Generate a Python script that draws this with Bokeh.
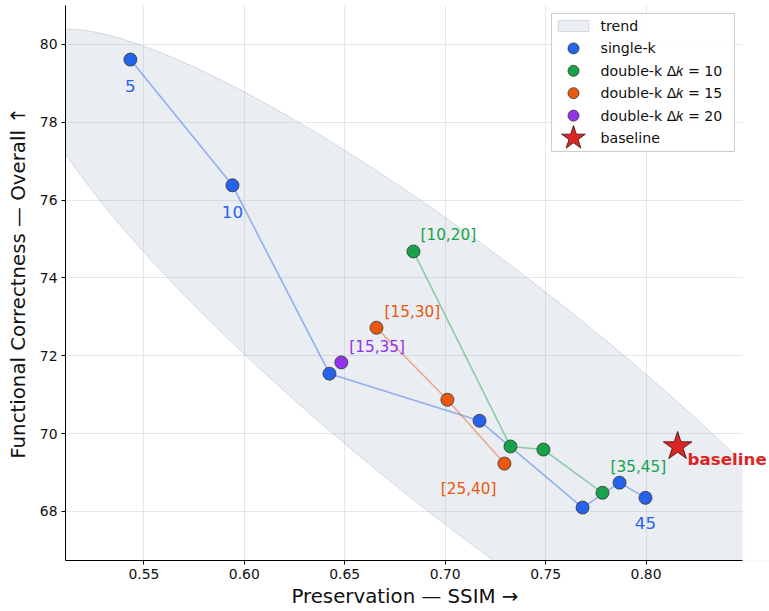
import numpy as np
from bokeh.plotting import figure
from bokeh.models import (Range1d, FixedTicker, Label, NumeralTickFormatter,
                          BoxAnnotation)
from bokeh.core.properties import value
from bokeh.embed import file_html
from bokeh.resources import INLINE

# ---------------- data ----------------
single_k = [5, 10, 20, 25, 35, 40, 45]
single_x = [0.5433, 0.5941, 0.6424, 0.7171, 0.7684, 0.7868, 0.7997]
single_y = [79.61, 76.38, 71.54, 70.33, 68.10, 68.74, 68.35]

d10_x = [0.6842, 0.7325, 0.7489, 0.7783]
d10_y = [74.68, 69.67, 69.59, 68.48]

d15_x = [0.6658, 0.7011, 0.7295]
d15_y = [72.72, 70.87, 69.23]

d20_x = [0.6483]
d20_y = [71.83]

base_x = [0.8157]
base_y = [69.67]

# trend ellipse: centre and two conjugate half-axes (data units)
trend_center = (0.7201, 70.848)
trend_u = (0.2286, -8.684)
trend_v = (0.0, -3.959)

x_ticks = [0.55, 0.60, 0.65, 0.70, 0.75, 0.80]
y_ticks = [68, 70, 72, 74, 76, 78, 80]

legend_labels = ["trend", "single-k", "double-k Δ𝑘 = 10", "double-k Δ𝑘 = 15",
                 "double-k Δ𝑘 = 20", "baseline"]

BLUE = "#2563eb"
GREEN = "#16a34a"
ORANGE = "#ea580c"
PURPLE = "#9333ea"
RED = "#dc2626"
TREND = "#94a3b8"
FONT = "DejaVu Sans"

# axes extent (the frame is widened to the canvas edge so the
# "baseline" annotation can run past the end of the x axis)
X_MIN, X_MAX = 0.511, 0.848
AXIS_W = 677
PAD_R = 27
X_VIEW_MAX = X_MAX + PAD_R * (X_MAX - X_MIN) / AXIS_W
FW, FH = AXIS_W + PAD_R, 555

p = figure(width=769, height=611, output_backend="svg", toolbar_location=None,
           x_range=Range1d(X_MIN, X_VIEW_MAX), y_range=Range1d(66.74, 81.0),
           min_border_left=65, min_border_right=0, min_border_top=5,
           min_border_bottom=51)
p.outline_line_color = None
p.background_fill_color = "white"
# pixel-space ranges over the frame, used only for the legend box
p.extra_x_ranges = {"px": Range1d(0, FW)}
p.extra_y_ranges = {"px": Range1d(0, FH)}

for g in (p.xgrid, p.ygrid):
    g.grid_line_color = "#b0b0b0"
    g.grid_line_alpha = 0.3
    g.grid_line_width = 1

for ax in (p.xaxis, p.yaxis):
    ax.axis_line_color = "black"
    ax.axis_line_width = 1
    ax.major_tick_line_color = "black"
    ax.major_tick_in = 0
    ax.major_tick_out = 4
    ax.minor_tick_line_color = None
    ax.major_label_text_font = FONT
    ax.major_label_text_font_size = "13.9px"
    ax.major_label_text_color = "#111111"
    ax.axis_label_text_font = FONT
    ax.axis_label_text_font_size = "19.8px"
    ax.axis_label_text_font_style = "normal"
    ax.axis_label_text_color = "#111111"
p.xaxis.ticker = FixedTicker(ticks=x_ticks)
p.yaxis.ticker = FixedTicker(ticks=y_ticks)
p.xaxis.bounds = (X_MIN, X_MAX)
p.xaxis.formatter = NumeralTickFormatter(format="0.00")
# trailing no-break spaces re-centre the label under the visible axis
p.xaxis.axis_label = "Preservation — SSIM →" + "\u00a0" * 4
p.yaxis.axis_label = "Functional Correctness — Overall ↑"
p.xaxis.major_label_standoff = 4
p.xaxis.axis_label_standoff = 3
p.yaxis.major_label_standoff = 4
p.yaxis.axis_label_standoff = 7

# trend ellipse
t = np.linspace(0, 2 * np.pi, 400)
ex = trend_center[0] + trend_u[0] * np.cos(t) + trend_v[0] * np.sin(t)
ey = trend_center[1] + trend_u[1] * np.cos(t) + trend_v[1] * np.sin(t)
p.patch(ex, ey, fill_color=TREND, fill_alpha=0.2,
        line_color=TREND, line_alpha=0.35, line_width=1)

# connecting lines
p.line(single_x, single_y, line_color=BLUE, line_alpha=0.45, line_width=1.6)
p.line(d10_x, d10_y, line_color=GREEN, line_alpha=0.45, line_width=1.6)
p.line(d15_x, d15_y, line_color=ORANGE, line_alpha=0.45, line_width=1.6)

MS = 13
EDGE = "#333333"
p.scatter(single_x, single_y, size=MS, fill_color=BLUE, line_color=EDGE, line_width=0.8)
p.scatter(d10_x, d10_y, size=MS, fill_color=GREEN, line_color=EDGE, line_width=0.8)
p.scatter(d15_x, d15_y, size=MS, fill_color=ORANGE, line_color=EDGE, line_width=0.8)
p.scatter(d20_x, d20_y, size=MS, fill_color=PURPLE, line_color=EDGE, line_width=0.8)
p.scatter(base_x, base_y, marker="star", size=30, fill_color=RED,
          line_color="#3a0a0a", line_width=0.8)

# blank out the strip right of the axes' end (grid / ellipse stop there)
p.add_layout(BoxAnnotation(left=X_MAX, fill_color="white", fill_alpha=1.0,
                           line_color=None))

def lab(x, y, text, color, xo, yo, align="center", size="15.3px", style="normal"):
    p.add_layout(Label(x=x, y=y, text=text, x_offset=xo, y_offset=yo,
                       text_align=align, text_baseline="middle",
                       text_color=color, text_font=FONT, level="overlay",
                       text_font_size=size, text_font_style=style))

lab(single_x[0], single_y[0], str(single_k[0]), BLUE, 0, -26, size="16.7px")
lab(single_x[1], single_y[1], str(single_k[1]), BLUE, 0, -27, size="16.7px")
lab(single_x[6], single_y[6], str(single_k[6]), BLUE, 0, -25, size="16.7px")
lab(d10_x[0], d10_y[0], "[10,20]", GREEN, 7, 16, align="left")
lab(d15_x[0], d15_y[0], "[15,30]", ORANGE, 8, 16, align="left")
lab(d20_x[0], d20_y[0], "[15,35]", PURPLE, 8, 15, align="left")
lab(d15_x[2], d15_y[2], "[25,40]", ORANGE, -8, -25, align="right")
lab(d10_x[3], d10_y[3], "[35,45]", GREEN, 8, 26, align="left")
lab(base_x[0], base_y[0], "baseline", RED, 10, -13, align="left",
    size="16.7px", style="bold")

# ---------------- legend (drawn in frame pixel space) ----------------
LX0, LX1, LY0, LY1 = 486, 669, 409, 547
p.quad(left=[LX0], right=[LX1], bottom=[LY0], top=[LY1],
       fill_color="white", fill_alpha=0.85, line_color="#cccccc", line_width=1,
       x_range_name="px", y_range_name="px")
row_y = [LY1 - 12.5 - 22.4 * i for i in range(6)]
mx = 508
p.quad(left=[mx - 15.5], right=[mx + 15.5], bottom=[row_y[0] - 5.5], top=[row_y[0] + 5.5],
       fill_color=TREND, fill_alpha=0.2, line_color=TREND, line_alpha=0.35,
       x_range_name="px", y_range_name="px")
for i, c in zip(range(1, 5), [BLUE, GREEN, ORANGE, PURPLE]):
    p.scatter([mx], [row_y[i]], size=11, fill_color=c, line_color=EDGE, line_width=0.8,
              x_range_name="px", y_range_name="px")
p.scatter([mx], [row_y[5]], marker="star", size=25, fill_color=RED,
          line_color="#3a0a0a", line_width=0.8, x_range_name="px", y_range_name="px")
p.text(x=[535] * 6, y=row_y, text=legend_labels, text_font=value(FONT),
       text_font_size="14.2px", text_color="#111111", text_baseline="middle",
       text_align="left", x_range_name="px", y_range_name="px")

open("out.html", "w").write(file_html(p, INLINE))
